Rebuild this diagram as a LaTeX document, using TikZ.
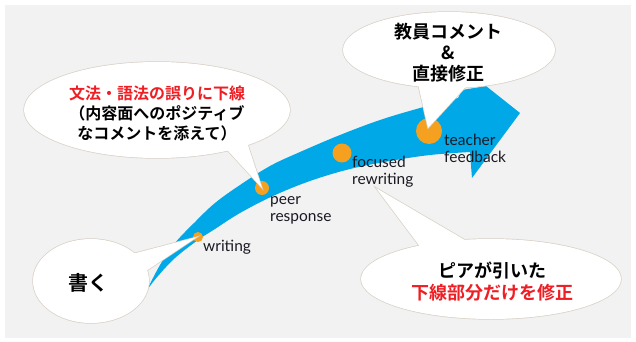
\documentclass[tikz,border=0pt]{standalone}
\usepackage{fontspec}
\setmainfont{Lato}
\newfontfamily\cjk{Noto Sans CJK JP}[BoldFont={Noto Sans CJK JP Bold}]
\definecolor{bg}{RGB}{242,242,242}
\definecolor{arrowblue}{RGB}{0,168,232}
\definecolor{dotorange}{RGB}{245,160,30}
\definecolor{jred}{RGB}{238,30,36}
\definecolor{labeltext}{RGB}{25,25,35}
\definecolor{bubline}{RGB}{215,208,196}
\begin{document}
\begin{tikzpicture}[x=1pt,y=-1pt,
  dot/.style={circle, fill=dotorange, inner sep=0pt},
  lbl/.style={anchor=base west, inner sep=0pt, text=labeltext, font=\fontsize{15.5}{17}\selectfont},
  bubedge/.style={draw=bubline, line width=1.4pt},
  bubfill/.style={fill=white},
  jtext/.style={align=center, inner sep=0pt, text=black}]
\useasboundingbox (0,0) rectangle (636,342);
\fill[bg] (5,5) rectangle (631,338);

% curved arrow
\fill[arrowblue] plot[smooth, tension=0.6] coordinates {(147,290) (160,265) (175,243) (195,222) (215,203) (240,185) (270,166) (300,152) (340,135) (380,120) (420,108) (458,98)}
  -- (462,90) -- (486,86) -- (520,113) -- (472,178) -- (470,153)
  -- plot[smooth, tension=0.6] coordinates {(470,152) (430,155) (390,161) (350,169) (310,181) (273,196) (240,213) (215,229) (198,240) (175,258) (158,276) (147,290)} -- cycle;

% dots
\node[dot, minimum size=10pt] (wdot) at (198,237) {};
\node[dot, minimum size=14pt] (pdot) at (262,188) {};
\node[dot, minimum size=19pt] (fdot) at (342,153) {};
\node[dot, minimum size=26pt] (tdot) at (429,131) {};

% labels
\node[lbl] (wl) at (203,251) {writing};
\node[lbl] (pl1) at (270,204) {peer};
\node[lbl] (pl2) at (270,221) {response};
\node[lbl] (fl1) at (352,167) {focused};
\node[lbl] (fl2) at (352,184) {rewriting};
\node[lbl] (tl1) at (444,145) {teacher};
\node[lbl] (tl2) at (444,162) {feedback};

% bubble 1
\draw[bubedge] (157,110) ellipse [x radius=133pt, y radius=48pt];
\draw[bubedge] (218,140) -- (262,188) -- (244,133);
\fill[bubfill] (157,110) ellipse [x radius=133pt, y radius=48pt];
\fill[bubfill] (218,140) -- (262,188) -- (244,133) -- cycle;
\node[jtext, font=\cjk\bfseries\fontsize{16}{20}\selectfont] (b1) at (157,113)
  {\textcolor{jred}{文法・語法の誤りに下線}\\（内容面へのポジティブ\\なコメントを添えて）};

% bubble 2
\draw[bubedge] (449,50) ellipse [x radius=106pt, y radius=38pt];
\draw[bubedge] (416,75) -- (428,128) -- (471,81);
\fill[bubfill] (449,50) ellipse [x radius=106pt, y radius=38pt];
\fill[bubfill] (416,75) -- (428,128) -- (471,81) -- cycle;
\node[jtext, font=\cjk\bfseries\fontsize{18}{21}\selectfont] (b2) at (448,53)
  {教員コメント\\\&\\直接修正};

% bubble 3
\draw[bubedge] (91,281) ellipse [x radius=58pt, y radius=42pt];
\draw[bubedge] (117,258) -- (197,237) -- (131,281);
\fill[bubfill] (91,281) ellipse [x radius=58pt, y radius=42pt];
\fill[bubfill] (117,258) -- (197,237) -- (131,281) -- cycle;
\node[jtext, font=\cjk\bfseries\fontsize{20}{24}\selectfont] (b3) at (88,283) {書く};

% bubble 4
\draw[bubedge] (491,279) ellipse [x radius=130pt, y radius=40pt];
\draw[bubedge] (430,260) -- (376,188) -- (482,250);
\fill[bubfill] (491,279) ellipse [x radius=130pt, y radius=40pt];
\fill[bubfill] (430,260) -- (376,188) -- (482,250) -- cycle;
\node[jtext, font=\cjk\bfseries\fontsize{18}{22}\selectfont] (b4) at (492,282)
  {ピアが引いた\\\textcolor{jred}{下線部分だけを修正}};
\end{tikzpicture}
\end{document}
